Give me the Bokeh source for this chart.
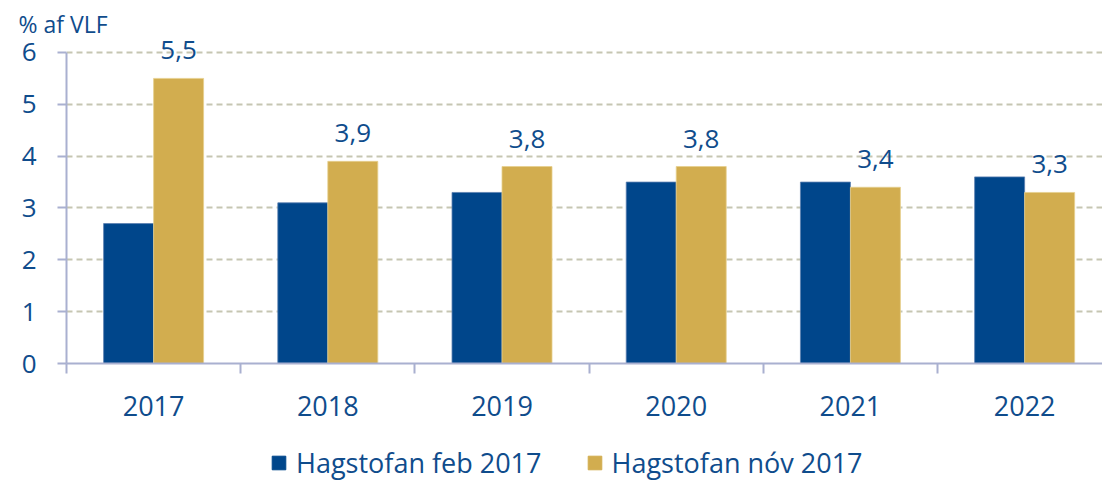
from bokeh.plotting import figure
from bokeh.models import (ColumnDataSource, Range1d, FixedTicker, Legend, LegendItem,
                          LabelSet, Title)
from bokeh.layouts import column
from bokeh.core.properties import value
from bokeh.embed import file_html
from bokeh.resources import INLINE

# ---- data ----
years = ["2017", "2018", "2019", "2020", "2021", "2022"]
feb_2017 = [2.7, 3.1, 3.3, 3.5, 3.5, 3.6]
nov_2017 = [5.5, 3.9, 3.8, 3.8, 3.4, 3.3]
series_names = ["Hagstofan feb 2017", "Hagstofan nóv 2017"]
y_ticks = [0, 1, 2, 3, 4, 5, 6]
unit_label = "% af VLF"

BLUE = "#00468B"
GOLD = "#D2AD4F"
TEXT = "#0F4C8C"
AXIS = "#A9B0D0"
GRID = "#C6C6B2"
FONT = "Open Sans"

n = len(years)
centers = [i + 0.5 for i in range(n)]
bw = 0.287

src = ColumnDataSource(dict(
    center=centers,
    left_mid=[c - bw / 2 for c in centers],
    right_mid=[c + bw / 2 for c in centers],
    feb=feb_2017,
    nov=nov_2017,
    nov_txt=[f"{v:.1f}".replace(".", ",") for v in nov_2017],
))

W = 1102
p = figure(width=W, height=431, output_backend="svg", toolbar_location=None,
           x_range=Range1d(0, 5.947), y_range=Range1d(0, 6.27),
           min_border_left=66, min_border_right=0, min_border_top=38,
           min_border_bottom=68)
p.outline_line_color = None
p.background_fill_color = "white"
p.border_fill_color = "white"

r1 = p.vbar(x="left_mid", top="feb", width=bw, source=src, fill_color=BLUE,
            line_color="#5A7FB0", line_width=0.8)
r2 = p.vbar(x="right_mid", top="nov", width=bw, source=src, fill_color=GOLD,
            line_color="#E6CF8E", line_width=0.8)

labels = LabelSet(x="right_mid", y="nov", text="nov_txt", source=src,
                  text_align="center", text_baseline="alphabetic", y_offset=19,
                  text_font=value(FONT), text_font_size=value("26px"),
                  text_color=TEXT)
p.add_layout(labels)

# x axis
p.xaxis.ticker = FixedTicker(ticks=centers, minor_ticks=list(range(n + 1)))
p.xaxis.major_label_overrides = {c: y for c, y in zip(centers, years)}
p.xaxis.major_tick_out = 0
p.xaxis.major_tick_in = 0
p.xaxis.minor_tick_out = 10
p.xaxis.minor_tick_in = 0
p.xaxis.minor_tick_line_color = AXIS
p.xaxis.minor_tick_line_width = 2
p.xaxis.axis_line_color = AXIS
p.xaxis.axis_line_width = 2
p.xaxis.major_label_text_font = FONT
p.xaxis.major_label_text_font_size = "27px"
p.xaxis.major_label_text_color = TEXT
p.xaxis.major_label_standoff = 22

# y axis
p.yaxis.ticker = FixedTicker(ticks=y_ticks)
p.yaxis.bounds = (y_ticks[0], y_ticks[-1])
p.yaxis.major_tick_out = 9
p.yaxis.major_tick_in = 0
p.yaxis.minor_tick_line_color = None
p.yaxis.major_tick_line_color = AXIS
p.yaxis.major_tick_line_width = 2
p.yaxis.axis_line_color = AXIS
p.yaxis.axis_line_width = 2
p.yaxis.major_label_text_font = FONT
p.yaxis.major_label_text_font_size = "26px"
p.yaxis.major_label_text_color = TEXT
p.yaxis.major_label_standoff = 21

p.xgrid.grid_line_color = None
p.ygrid.ticker = FixedTicker(ticks=y_ticks[1:])
p.ygrid.grid_line_color = GRID
p.ygrid.grid_line_width = 2
p.ygrid.grid_line_dash = "6 4"

p.title = Title(text=unit_label, align="left", offset=-48, standoff=-2,
                text_font=FONT, text_font_size="23px",
                text_font_style="normal", text_color=TEXT)

# legend strip below the chart (its bars lie outside its view; only the legend shows)
pl = figure(width=W, height=50, output_backend="svg", toolbar_location=None,
            x_range=Range1d(0, 1), y_range=Range1d(100, 101),
            x_axis_location=None, y_axis_location=None,
            min_border_left=0, min_border_right=0, min_border_top=0,
            min_border_bottom=0, min_border=0)
pl.grid.visible = False
pl.outline_line_color = None
l1 = pl.vbar(x="left_mid", top="feb", width=bw, source=src, fill_color=BLUE,
             line_color=BLUE)
l2 = pl.vbar(x="right_mid", top="nov", width=bw, source=src, fill_color=GOLD,
             line_color=GOLD)
legend = Legend(items=[LegendItem(label=series_names[0], renderers=[l1]),
                       LegendItem(label=series_names[1], renderers=[l2])],
                orientation="horizontal", location=(204, 0),
                label_text_font=FONT, label_text_font_size="27px",
                label_text_color=TEXT, glyph_width=17, glyph_height=17,
                label_standoff=9, spacing=44, padding=0, margin=0,
                border_line_color=None, background_fill_alpha=0)
pl.add_layout(legend)

layout = column(p, pl, spacing=0)
open("out.html", "w").write(file_html(layout, INLINE))
